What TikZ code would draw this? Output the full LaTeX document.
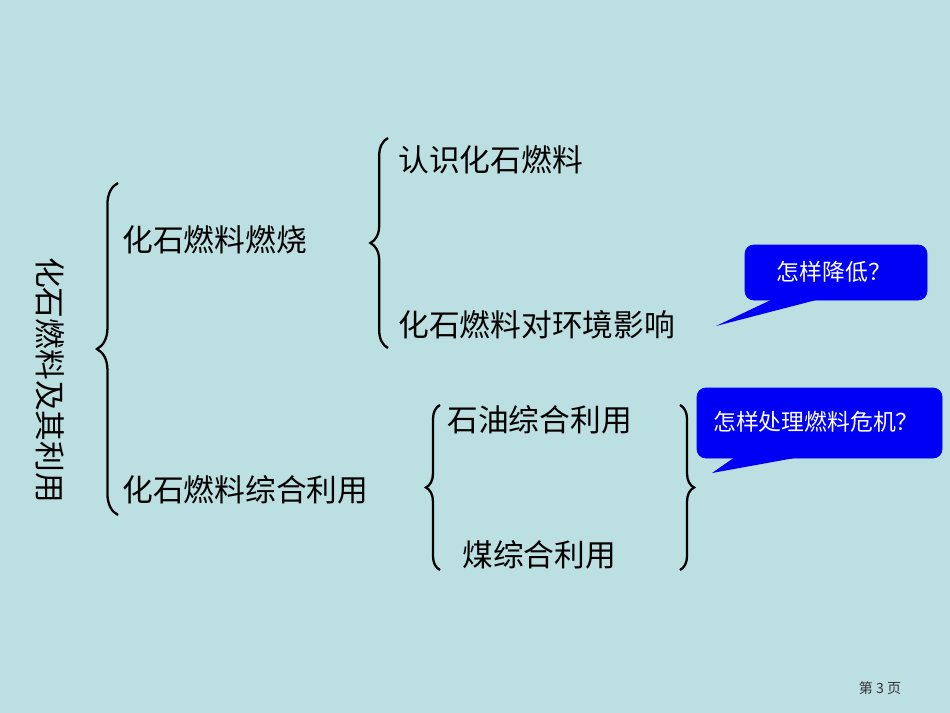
\documentclass[tikz,border=0pt]{standalone}
\usepackage{fontspec}
\setmainfont{Noto Sans CJK SC}
\usetikzlibrary{decorations.pathreplacing}
\definecolor{slidebg}{RGB}{188,223,226}
\definecolor{calloutblue}{RGB}{0,0,245}
\tikzset{
  item/.style={anchor=west, inner sep=0pt, font=\fontsize{17.5}{20}\selectfont},
  bracket/.style={line width=1.3pt, decorate, decoration={brace, amplitude=#1}},
  bubble/.style={fill=calloutblue, draw=calloutblue, rounded corners=5pt},
  bubbletext/.style={text=white, font=\fontsize{13}{15}\selectfont}
}
\begin{document}
\begin{tikzpicture}[x=0.02cm, y=-0.02cm]
	% Background of the slide
		\fill [slidebg] (0,0) rectangle (950,713);
		\useasboundingbox (0,0) rectangle (950,713);

	% Title written downwards
		\node [item, anchor=center, rotate=-90] (title) at (50,380) {化石燃料及其利用};

	% Main brace and its two branches
		\draw [bracket=12pt] (118,515) -- (118,183);
		\node [item] (burn) at (122,240) {化石燃料燃烧};
		\node [item] (use) at (122,490) {化石燃料综合利用};

	% Branches of the burning part
		\draw [bracket=10pt] (388,348) -- (388,138);
		\node [item] (know) at (398,160) {认识化石燃料};
		\node [item] (env) at (398,325) {化石燃料对环境影响};

	% Branches of the use part
		\draw [bracket=8pt] (440,570) -- (440,405);
		\draw [bracket=8pt] (680,405) -- (680,570);
		\node [item] (oil) at (447,420) {石油综合利用};
		\node [item] (coal) at (462,555) {煤综合利用};

	% Speech bubbles
		\coordinate (tipA) at (716,326);
		\coordinate (tipB) at (712,473);
		\fill [bubble] (745,245) rectangle (927,300);
		\fill [calloutblue] (773,299) -- (tipA) -- (820,299) -- cycle;
		\node [bubbletext] (lower) at (834,272) {怎样降低？};
		\fill [bubble] (697,388) rectangle (942,458);
		\fill [calloutblue] (735,457) -- (tipB) -- (800,457) -- cycle;
		\node [bubbletext] (crisis) at (816,422) {怎样处理燃料危机？};

	% Page number
		\node [font=\fontsize{8}{10}\selectfont, text=black!80] (page) at (880,688) {第 3 页};
\end{tikzpicture}
\end{document}
